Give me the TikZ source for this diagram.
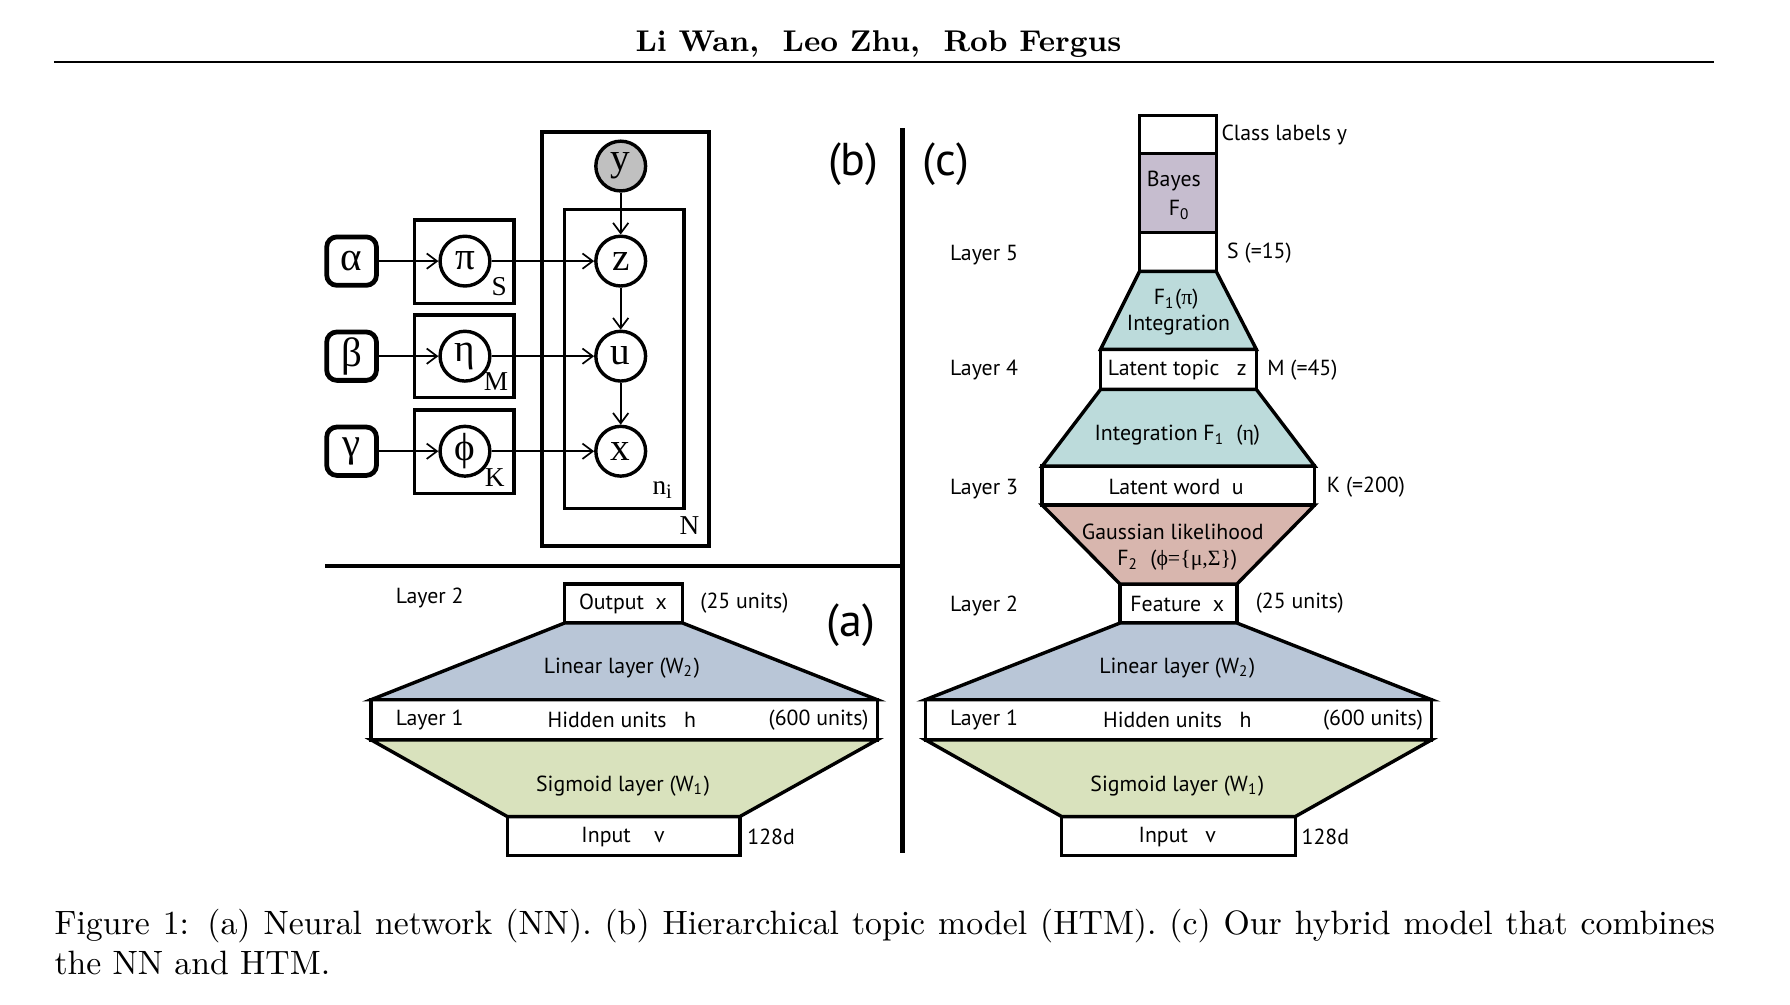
\documentclass[tikz,border=0pt]{standalone}
\usepackage{fontspec}
\newfontfamily\dsans{PT Sans}
\newfontfamily\gmser{Liberation Serif}
\usetikzlibrary{arrows.meta,fit}
\definecolor{linblue}{RGB}{185,198,215}
\definecolor{siggreen}{RGB}{217,226,189}
\definecolor{intteal}{RGB}{188,219,219}
\definecolor{bayespurple}{RGB}{198,189,207}
\definecolor{gausspink}{RGB}{216,182,174}
\definecolor{obsgray}{RGB}{192,192,192}
\begin{document}
\begin{tikzpicture}[x=0.3359pt,y=-0.3359pt,
  lay/.style={draw, line width=1pt, inner sep=0pt, outer sep=0pt},
  trap/.style={draw, line width=1pt, line join=miter},
  txt/.style={font=\dsans\fontsize{6.4}{8}\selectfont, inner sep=0pt},
  plab/.style={font=\dsans\fontsize{13.5}{14}\selectfont, inner sep=0pt},
  gmvar/.style={circle, draw, line width=1pt, minimum size=14.6pt, inner sep=0pt, font=\gmser\fontsize{11.5}{12}\selectfont},
  gmhyp/.style={draw, rounded corners=3pt, line width=1.4pt, minimum width=14.6pt, minimum height=14.2pt, inner sep=0pt, font=\gmser\fontsize{12}{12}\selectfont},
  plate/.style={draw, line width=1.1pt, inner sep=0pt},
  platelab/.style={font=\gmser\fontsize{8}{8}\selectfont, inner sep=0pt},
  arr/.style={-{Straight Barb[length=3pt,width=4.5pt]}, line width=0.5pt},
  divider/.style={line width=1.2pt}
]
\useasboundingbox[fill=white] (0,0) rectangle (1563,877);

% header
\node[font=\fontsize{8.8}{11}\selectfont\bfseries, inner sep=0pt, anchor=base] (hdr) at (767,45) {Li Wan,\ \ Leo Zhu,\ \ Rob Fergus};
\coordinate (rl) at (47,54);
\coordinate (rr) at (1497,54);
\draw[line width=0.6pt] (rl) -- (rr);

% dividers
\coordinate (vt) at (788,112);
\coordinate (vb) at (788,745);
\coordinate (hl) at (284,494);
\coordinate (hr) at (788,494);
\draw[divider] (vt) -- (vb);
\draw[divider] (hl) -- (hr);

% ---------------- panel (b) ----------------
\node[plab] (lb) at (745,143) {(b)};
\node[plate, fit={(473,115)(619,477)}] (plN) {};
\node[plate, fit={(493,183)(597,444)}] (plni) {};
\node[plate, fit={(362,192)(449,265)}] (plS) {};
\node[plate, fit={(362,275)(449,347)}] (plM) {};
\node[plate, fit={(362,358)(449,431)}] (plK) {};
\node[platelab] (labN) at (602,459) {N};
\node[platelab] (labni) at (579,428) {n\textsubscript{i}};
\node[platelab] (labS) at (436,250) {S};
\node[platelab] (labM) at (433,333) {M};
\node[platelab] (labK) at (432,417) {K};

\node[gmhyp, fill=white] (alpha) at (307,228) {α};
\node[gmhyp, fill=white] (beta) at (307,311) {β};
\node[gmhyp, fill=white] (gamma) at (307,394) {γ};
\node[gmvar, fill=white] (pi) at (406,228) {π};
\node[gmvar, fill=white] (eta) at (406,311) {η};
\node[gmvar, fill=white] (phi) at (406,394) {ϕ};
\node[gmvar, fill=obsgray] (y) at (542,145) {\raisebox{-1.2pt}{y}};
\node[gmvar, fill=white] (z) at (542,228) {z};
\node[gmvar, fill=white] (u) at (542,311) {u};
\node[gmvar, fill=white] (x) at (542,394) {x};

\draw[arr] (alpha) -- (pi);
\draw[arr] (beta) -- (eta);
\draw[arr] (gamma) -- (phi);
\draw[arr] (pi) -- (z);
\draw[arr] (eta) -- (u);
\draw[arr] (phi) -- (x);
\draw[arr] (y) -- (z);
\draw[arr] (z) -- (u);
\draw[arr] (u) -- (x);

% ---------------- panel (a) ----------------
\node[plab] (la) at (743,546) {(a)};
\node[lay, fit={(493,510)(596,544)}] (outA) {};
\node[lay, fit={(324,611)(766,646)}] (hidA) {};
\node[lay, fit={(443,713)(646,747)}] (inA) {};
\filldraw[trap, fill=linblue] (outA.south west) -- (outA.south east) -- (hidA.north east) -- (hidA.north west) -- cycle;
\filldraw[trap, fill=siggreen] (hidA.south west) -- (hidA.south east) -- (inA.north east) -- (inA.north west) -- cycle;

\node[txt, anchor=west] (aL2) at (345,522) {Layer 2};
\node[txt] (aOut) at (544,527) {Output\ \ x};
\node[txt, anchor=west] (a25) at (611,527) {(25 units)};
\node[txt] (aLin) at (543,583) {Linear layer (W\textsubscript{2})};
\node[txt, anchor=west] (aL1) at (345,629) {Layer 1};
\node[txt] (aHid) at (543,629) {Hidden units\ \ \ h};
\node[txt, anchor=east] (a600) at (759,629) {(600 units)};
\node[txt] (aSig) at (544,686) {Sigmoid layer (W\textsubscript{1})};
\node[txt] (aIn) at (544,731) {Input\ \ \ \ v};
\node[txt, anchor=west] (a128) at (652,731) {128d};

% ---------------- panel (c) ----------------
\node[plab] (lc) at (826,143) {(c)};
\node[lay, fit={(995,101)(1062,134)}] (clsC) {};
\node[lay, fill=bayespurple, fit={(995,134)(1062,203)}] (bayC) {};
\node[lay, fit={(995,203)(1062,237)}] (sC) {};
\node[lay, fit={(961,305)(1097,340)}] (topC) {};
\node[lay, fit={(910,407)(1148,441)}] (wordC) {};
\node[lay, fit={(978,510)(1080,544)}] (featC) {};
\node[lay, fit={(808,611)(1250,646)}] (hidC) {};
\node[lay, fit={(927,713)(1131,747)}] (inC) {};
\filldraw[trap, fill=intteal] (sC.south west) -- (sC.south east) -- (topC.north east) -- (topC.north west) -- cycle;
\filldraw[trap, fill=intteal] (topC.south west) -- (topC.south east) -- (wordC.north east) -- (wordC.north west) -- cycle;
\filldraw[trap, fill=gausspink] (wordC.south west) -- (wordC.south east) -- (featC.north east) -- (featC.north west) -- cycle;
\filldraw[trap, fill=linblue] (featC.south west) -- (featC.south east) -- (hidC.north east) -- (hidC.north west) -- cycle;
\filldraw[trap, fill=siggreen] (hidC.south west) -- (hidC.south east) -- (inC.north east) -- (inC.north west) -- cycle;

\node[txt, anchor=west] (cCls) at (1066,118) {Class labels y};
\node[txt] (cBay) at (1025,158) {Bayes};
\node[txt] (cF0) at (1030,183) {F\textsubscript{0}};
\node[txt, anchor=west] (cL5) at (829,223) {Layer 5};
\node[txt, anchor=west] (cS) at (1071,221) {S (=15)};
\node[txt] (cF1pi) at (1027,261) {F\textsubscript{1}({\gmser π})};
\node[txt] (cInt1) at (1029,284) {Integration};
\node[txt, anchor=west] (cL4) at (829,323) {Layer 4};
\node[txt] (cTop) at (1028,323) {Latent topic\ \ \ z};
\node[txt, anchor=west] (cM) at (1106,323) {M (=45)};
\node[txt] (cInt2) at (1028,380) {Integration F\textsubscript{1}\ \ ({\gmser η})};
\node[txt, anchor=west] (cL3) at (829,427) {Layer 3};
\node[txt] (cWord) at (1027,425) {Latent word\ \ u};
\node[txt, anchor=west] (cK) at (1158,425) {K (=200)};
\node[txt] (cGau) at (1024,464) {Gaussian likelihood};
\node[txt] (cF2) at (1028,489) {F\textsubscript{2}\ \ ({\gmser ϕ=\{μ,Σ\}})};
\node[txt, anchor=west] (cL2) at (829,529) {Layer 2};
\node[txt] (cFeat) at (1028,527) {Feature\ \ x};
\node[txt, anchor=west] (c25) at (1096,527) {(25 units)};
\node[txt] (cLin) at (1028,583) {Linear layer (W\textsubscript{2})};
\node[txt, anchor=west] (cL1) at (829,629) {Layer 1};
\node[txt] (cHid) at (1028,629) {Hidden units\ \ \ h};
\node[txt, anchor=east] (c600) at (1243,629) {(600 units)};
\node[txt] (cSig) at (1028,686) {Sigmoid layer (W\textsubscript{1})};
\node[txt] (cIn) at (1028,731) {Input\ \ \ v};
\node[txt, anchor=west] (c128) at (1136,731) {128d};

% caption
\node[anchor=north west, inner sep=0pt, text width=487pt, align=justify, font=\fontsize{9.9}{11.9}\selectfont] (cap) at (47,793)
{Figure 1: (a) Neural network (NN). (b) Hierarchical topic model (HTM). (c) Our hybrid model that combines\linebreak the NN and HTM.};
\end{tikzpicture}
\end{document}
